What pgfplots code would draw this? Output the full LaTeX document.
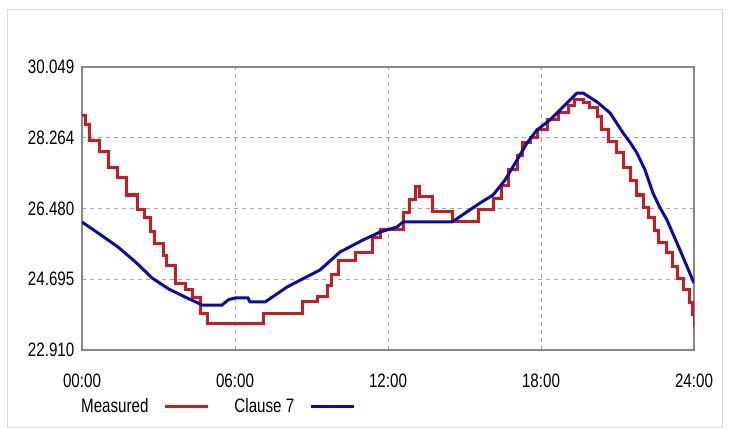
\documentclass[border=0pt]{standalone}
\usepackage{fontspec}
\setmainfont{Liberation Sans}[FakeStretch=0.78]
\usepackage{pgfplots}
\pgfplotsset{compat=1.18}
\definecolor{meas}{RGB}{200,28,32}
\definecolor{cl7}{RGB}{12,12,165}
\definecolor{gridc}{RGB}{165,165,165}
\definecolor{framec}{RGB}{135,135,135}
\begin{document}
\fontsize{19.5}{22}\selectfont
\begin{tikzpicture}
\useasboundingbox (-82bp,-78bp) rectangle (649bp,350bp);
\fill[white] (-82bp,-78bp) rectangle (649bp,350bp);
\draw[gray!30, line width=1bp] (-74bp,-77bp) rectangle (640bp,340bp);
\begin{axis}[
  at={(0,0)}, anchor=south west, scale only axis,
  width=612bp, height=283bp,
  xmin=0, xmax=24, ymin=22.910, ymax=30.049,
  xtick={0,6,12,18,24}, xticklabels={00:00,06:00,12:00,18:00,24:00},
  ytick={22.910,24.695,26.480,28.264,30.049},
  yticklabels={22.910,24.695,26.480,28.264,30.049},
  major tick length=0pt,
  grid=major,
  major grid style={gridc, dash pattern=on 4bp off 4bp, line width=0.8bp},
  axis line style={framec, line width=1.3bp},
  tick label style={font=\fontsize{19.5}{22}\selectfont},
  xticklabel style={yshift=-17bp},
  yticklabel style={xshift=-1bp},
  /pgf/number format/assume math mode=true,
  legend plot pos=right,
  legend columns=-1,
  legend cell align=left,
  legend style={at={(axis description cs:-0.005,-0.2014)}, anchor=west, draw=none, fill=none,
    inner sep=0pt, font=\fontsize{19.5}{22}\selectfont,
    /tikz/every odd column/.append style={column sep=13bp},
    /tikz/every even column/.append style={column sep=23bp}},
  legend image code/.code={\draw[#1] (0bp,0bp) -- (43bp,0bp);},
]
\addplot[meas, line width=3bp, const plot] coordinates {
(0,28.838) (0.12,28.586) (0.31,28.207) (0.67,27.905) (1.02,27.526) (1.41,27.249)
(1.76,26.820) (2.16,26.442) (2.47,26.240) (2.67,25.887) (2.86,25.609) (3.18,25.306)
(3.33,25.054) (3.65,24.600) (4.04,24.424) (4.35,24.222) (4.63,23.843) (4.94,23.591)
(7.10,23.843) (8.63,24.121) (9.25,24.247) (9.61,24.548) (9.80,24.802) (10.04,25.180)
(10.71,25.382) (11.41,25.760) (11.69,25.938) (12.59,26.391) (12.86,26.694) (13.06,27.022)
(13.25,26.770) (13.73,26.416) (14.51,26.139) (15.53,26.442) (16.12,26.744) (16.47,27.072)
(16.71,27.451) (17.06,27.829) (17.29,28.132) (17.57,28.283) (17.88,28.460) (18.27,28.712)
(18.67,28.889) (19.06,29.090) (19.33,29.217) (19.65,29.141) (19.92,29.015) (20.20,28.788)
(20.39,28.460) (20.63,28.157) (20.98,27.880) (21.22,27.526) (21.49,27.198) (21.76,26.820)
(22.00,26.517) (22.20,26.240) (22.47,25.937) (22.59,25.634) (22.94,25.357) (23.14,25.004)
(23.37,24.726) (23.57,24.424) (23.84,24.096) (23.96,23.793) (24.00,23.490)
};
\addlegendentry{Measured}
\addplot[cl7, line width=3bp] coordinates {
(0,26.139) (0.7,25.830) (1.41,25.509) (2.10,25.130) (2.75,24.726) (3.40,24.450) (4.04,24.247) (4.55,24.096) (4.70,24.045)
(5.49,24.045) (5.75,24.180) (6.00,24.222) (6.51,24.222) (6.59,24.121) (7.18,24.121)
(8.04,24.499) (9.33,24.928) (10.12,25.382) (11.02,25.685) (11.69,25.887) (12.35,26.013)
(12.59,26.139) (14.51,26.139) (15.61,26.618) (16.12,26.820) (16.59,27.199) (17.06,27.703)
(17.45,28.132) (17.84,28.460) (18.35,28.712) (18.86,29.040) (19.41,29.393) (19.65,29.393)
(20.20,29.166) (20.71,28.889) (21.22,28.384) (21.50,28.140) (21.76,27.880) (22.08,27.451) (22.39,26.871)
(22.65,26.520) (22.94,26.189) (23.45,25.433) (24.00,24.600)
};
\addlegendentry{Clause 7}
\node[anchor=east, inner sep=0pt] at (rel axis cs:1,1) [yshift=20bp] {Top oil [°C]};
\end{axis}
\end{tikzpicture}
\end{document}
